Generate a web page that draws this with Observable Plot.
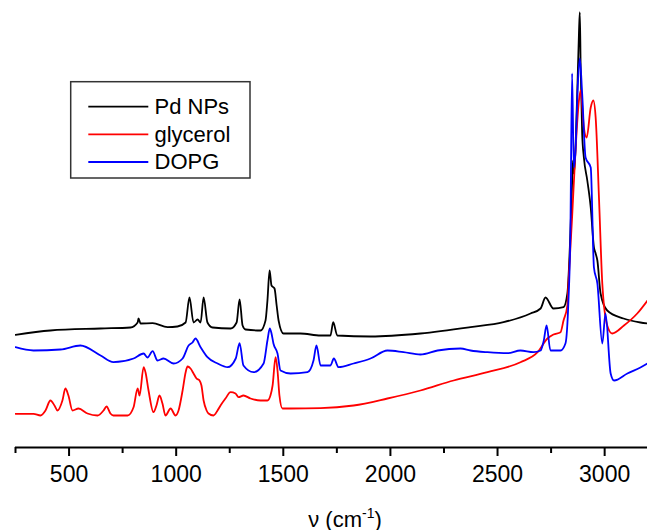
<!DOCTYPE html>
<html><head><meta charset="utf-8">
<script src="https://cdn.jsdelivr.net/npm/d3@7"></script>
<script src="https://cdn.jsdelivr.net/npm/@observablehq/plot@0.6"></script>
<style>body{margin:0;background:#fff;} svg{display:block;}</style>
</head><body><div id="chart"></div>
<script>
const seriesNames = ["Pd NPs", "glycerol", "DOPG"];
const seriesColors = ["#000000", "#ff0000", "#0000ff"];

// [wavenumber (cm-1), intensity (arb. units)]
const pdNPs = [[250,115.7],[413,120],[647,122],[787,123],[820,128],[824,132],[834,127],[890,127.3],[960,123.3],[1006,124],[1044,128],[1062,153],[1081,128],[1100,131],[1114,128],[1128,153],[1146,128],[1170,123],[1254,122],[1282,128],[1296,151],[1310,125],[1324,121],[1394,120],[1417,130],[1426,150],[1436,180],[1445,165],[1459,162],[1469,145],[1478,130],[1501,117],[1580,117],[1674,115],[1720,115],[1733,128.3],[1752,115],[1907,114],[2140,117],[2374,123.3],[2528,128.3],[2654,137],[2701,142],[2724,153],[2761,142],[2808,143.3],[2826,157],[2840,217],[2848,267],[2852,290],[2856,277],[2872,357],[2880,417],[2884,438.3],[2888,383],[2895,317],[2903,293],[2919,270],[2935,243],[2950,203],[2958,197],[2966,190],[2981,157],[3012,140],[3088,132],[3167,128],[3200,127]];

const glycerol = [[250,36.7],[334,36.7],[367,35],[390,40],[413,50],[432,45],[446,40],[469,50],[483,62],[497,55],[516,40],[544,42],[586,37],[633,35],[661,40],[675,44],[693,37],[707,35],[773,35],[801,43.3],[820,62],[829,55],[848,83.3],[857,78],[871,60],[894,38.3],[908,45],[922,55],[936,47],[950,35],[974,42],[997,35],[1011,40],[1030,60],[1044,78],[1053,84],[1067,82],[1081,77],[1095,72],[1109,70],[1118,65],[1128,50],[1142,40],[1151,37],[1174,35],[1193,40],[1207,45],[1230,52],[1254,58.3],[1277,57],[1291,53.3],[1314,55],[1347,52],[1394,50],[1426,50],[1440,55],[1450,65],[1464,93.3],[1473,80],[1482,55],[1496,42],[1534,42],[1674,42.3],[1828,45],[1986,52],[2140,60],[2295,70],[2453,78.3],[2607,88.3],[2687,98.3],[2733,112],[2761,116],[2794,118.3],[2808,130],[2826,145],[2831,167],[2848,233],[2864,300],[2880,350],[2888,360],[2903,323],[2916,313],[2935,343],[2947,350],[2958,333],[2974,250],[2989,167],[3012,125],[3035,117],[3090,125],[3152,137],[3200,150]];

const dopg = [[250,103.3],[334,100],[460,101],[553,105],[647,95],[707,88.3],[801,92],[848,97],[866,93],[890,99.3],[913,90],[941,92],[988,87],[1030,92],[1058,105],[1076,108],[1090,112],[1114,103.3],[1146,93.3],[1193,87],[1240,83.3],[1278,92],[1296,107.3],[1314,85],[1361,78.3],[1408,87],[1426,110],[1437,122],[1445,117],[1454,107],[1473,97],[1487,80],[1534,77],[1613,78.3],[1641,90],[1655,105],[1674,85],[1720,85],[1736,92],[1758,83.3],[1828,87],[1907,92],[1986,100],[2061,98.3],[2140,96],[2220,100],[2327,102],[2374,100],[2453,98.3],[2547,97.3],[2607,100],[2668,98.3],[2701,100],[2710,105],[2716,110],[2729,125],[2747,100],[2794,100],[2817,107],[2831,150],[2840,217],[2848,377],[2856,283],[2864,300],[2875,367],[2884,392],[2895,357],[2911,293],[2935,283],[2950,183],[2966,167],[2989,107],[3004,137],[3028,77],[3044,70],[3106,77],[3167,83],[3200,87]];

const majorTicks = [500, 1000, 1500, 2000, 2500, 3000];
const minorTicks = [250, 750, 1250, 1750, 2250, 2750];
const xDomain = [250, 3200];
const yDomain = [3, 450];
const xLabelMain = "ν (cm";
const xLabelSup = "-1";
const xLabelEnd = ")";

const rows = [];
[pdNPs, glycerol, dopg].forEach((s, i) => s.forEach(([x, y]) => rows.push({series: seriesNames[i], x, y})));

const font = "'Liberation Sans', Arial, sans-serif";
const plot = Plot.plot({
  width: 649, height: 530,
  marginLeft: 15, marginRight: 2, marginTop: 0, marginBottom: 83,
  style: {fontFamily: font, background: "#fff", color: "#000"},
  x: {domain: xDomain},
  y: {domain: yDomain, axis: null},
  color: {domain: seriesNames, range: seriesColors},
  marks: [
    Plot.line(rows, {x: "x", y: "y", z: "series", stroke: "series", strokeWidth: 1.8, curve: "monotone-x", clip: true}),
    Plot.ruleY([yDomain[0]], {stroke: "#000", strokeWidth: 2}),
    Plot.axisX(minorTicks, {tickSize: 6, tickFormat: () => "", strokeWidth: 2, label: null}),
    Plot.axisX(majorTicks, {tickSize: 9, tickPadding: 9.4, fontSize: 23, strokeWidth: 2, label: null, tickFormat: d => String(d)})
  ]
});

const svg = d3.select(plot);
// x axis title
const t = svg.append("text")
  .attr("x", 345).attr("y", 526.5)
  .attr("text-anchor", "middle")
  .attr("font-family", font).attr("font-size", 22).attr("fill", "#000");
t.append("tspan").text(xLabelMain);
t.append("tspan").attr("dy", -9).attr("font-size", 14).text(xLabelSup);
t.append("tspan").attr("dy", 9).text(xLabelEnd);

// legend
const lg = svg.append("g").attr("text-anchor", "start");
lg.append("rect").attr("x", 70.7).attr("y", 81.7).attr("width", 179.3).attr("height", 96.3)
  .attr("fill", "#fff").attr("stroke", "#333").attr("stroke-width", 1.5);
seriesNames.forEach((name, i) => {
  const yy = 106.7 + 27.65 * i;
  lg.append("line").attr("x1", 88.3).attr("x2", 148.3).attr("y1", yy).attr("y2", yy)
    .attr("stroke", seriesColors[i]).attr("stroke-width", 1.8);
  lg.append("text").attr("x", 154.5).attr("y", yy + 7.4).attr("text-anchor", "start")
    .attr("font-family", font).attr("font-size", 22).attr("fill", "#000").text(name);
});

document.getElementById("chart").appendChild(plot);
</script>
</body></html>
